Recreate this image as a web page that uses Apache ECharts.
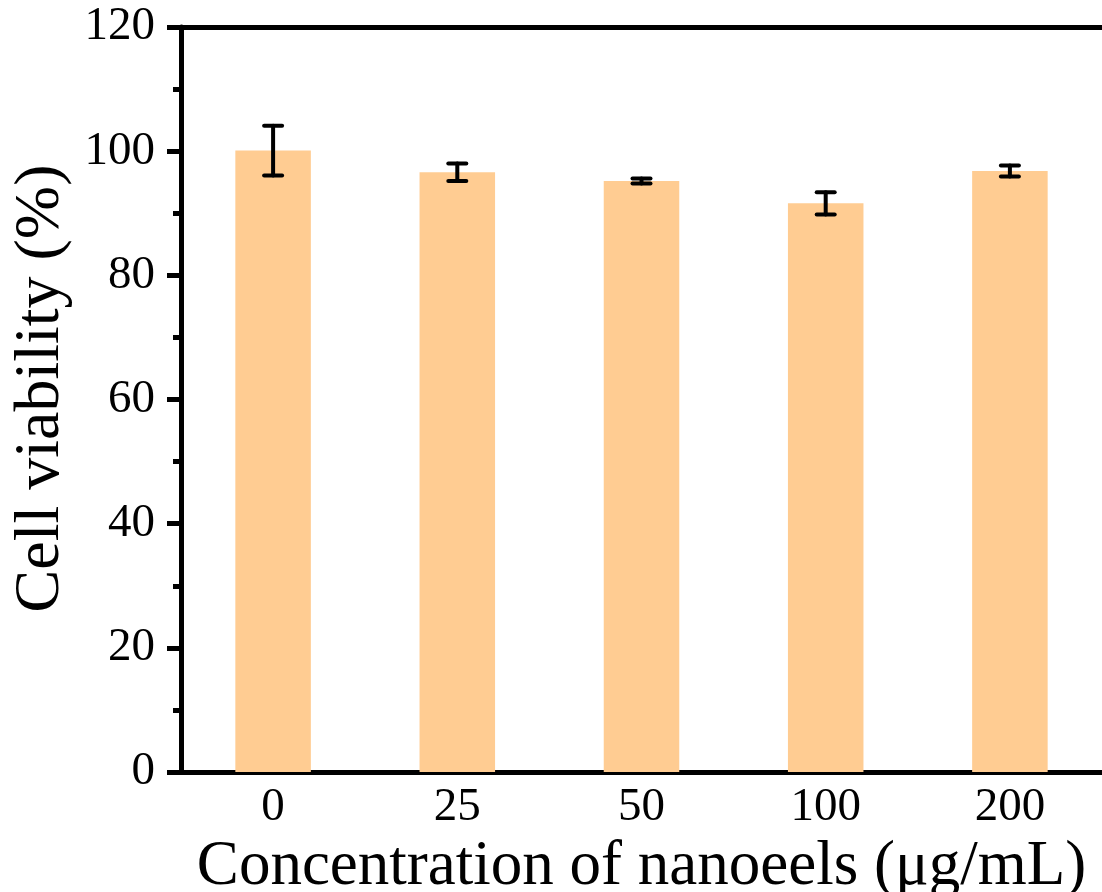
<!DOCTYPE html>
<html>
<head>
<meta charset="utf-8">
<script src="https://cdn.jsdelivr.net/npm/echarts@6/dist/echarts.min.js"></script>
<style>html,body{margin:0;padding:0;background:#fff;}#c{width:1102px;height:892px;}</style>
</head>
<body>
<div id="c"></div>
<script>
const categories = ['0', '25', '50', '100', '200'];
const viability = [100.1, 96.6, 95.2, 91.6, 96.8];
const errors = [4.0, 1.4, 0.4, 1.8, 0.9];
const yTicks = [0, 20, 40, 60, 80, 100, 120];

const chart = echarts.init(document.getElementById('c'), null, {renderer: 'canvas'});
const font = 'Liberation Serif';
const errData = categories.map((c, i) => [i, viability[i], errors[i]]);

chart.setOption({
  animation: false,
  backgroundColor: '#ffffff',
  grid: {left: 181, right: 0, top: 27, bottom: 120, containLabel: false, outerBoundsMode: 'none'},
  xAxis: [{
    type: 'category',
    data: categories,
    position: 'bottom',
    axisLine: {show: true, lineStyle: {color: '#000', width: 5}},
    axisTick: {show: false},
    axisLabel: {color: '#000', fontFamily: font, fontSize: 47, margin: 12},
    name: 'Concentration of nanoeels (μg/mL)',
    nameLocation: 'middle',
    nameGap: 51,
    nameTextStyle: {color: '#000', fontFamily: font, fontSize: 63}
  }, {
    type: 'category',
    data: categories,
    position: 'top',
    axisLine: {show: true, lineStyle: {color: '#000', width: 5}},
    axisTick: {show: false},
    axisLabel: {show: false}
  }],
  yAxis: {
    type: 'value',
    min: yTicks[0],
    max: yTicks[yTicks.length - 1],
    interval: 20,
    axisLine: {show: true, lineStyle: {color: '#000', width: 5}},
    axisTick: {show: true, length: 14, lineStyle: {color: '#000', width: 5}},
    minorTick: {show: true, splitNumber: 2, length: 8, lineStyle: {color: '#000', width: 5}},
    splitLine: {show: false},
    axisLabel: {color: '#000', fontFamily: font, fontSize: 47, margin: 26},
    name: 'Cell viability (%)',
    nameLocation: 'middle',
    nameGap: 108,
    nameTextStyle: {color: '#000', fontFamily: font, fontSize: 64, padding: [0, 0, 0, 22]}
  },
  series: [{
    type: 'bar',
    data: viability,
    barWidth: '41%',
    itemStyle: {color: '#FFCC92'},
    z: 2
  }, {
    type: 'custom',
    data: errData,
    z: 5,
    renderItem: function (params, api) {
      const x = api.value(0), v = api.value(1), e = api.value(2);
      const top = api.coord([x, v + e]);
      const bot = api.coord([x, v - e]);
      const hw = 9;
      const style = {stroke: '#000', lineWidth: 4, lineCap: 'round'};
      return {
        type: 'group',
        children: [
          {type: 'line', shape: {x1: top[0], y1: top[1], x2: bot[0], y2: bot[1]}, style: style},
          {type: 'line', shape: {x1: top[0] - hw, y1: top[1], x2: top[0] + hw, y2: top[1]}, style: style},
          {type: 'line', shape: {x1: bot[0] - hw, y1: bot[1], x2: bot[0] + hw, y2: bot[1]}, style: style}
        ]
      };
    }
  }]
});
</script>
</body>
</html>
